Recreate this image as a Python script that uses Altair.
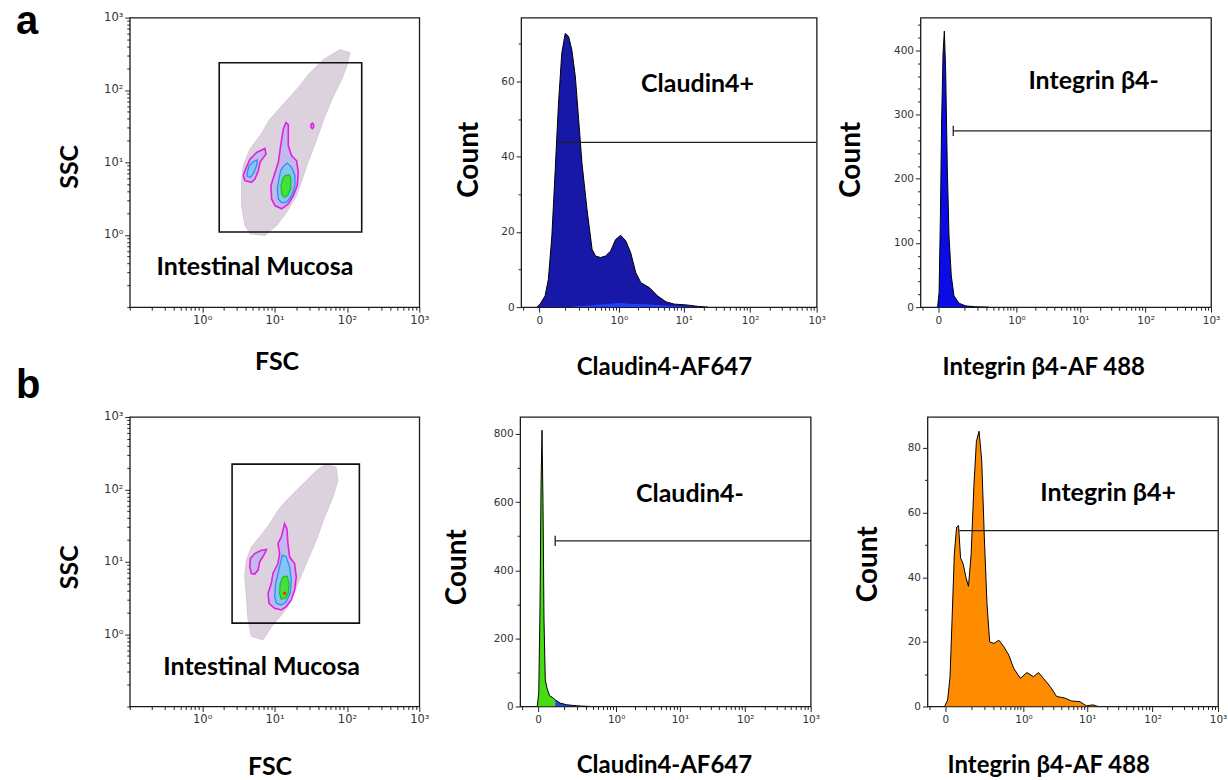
import altair as alt
import numpy as np
import pandas as pd

# ---------------- histogram data (x = fluorescence value, y = count) ----------------
h1_x = [-0.006, 0.0017, 0.015, 0.025, 0.037, 0.050, 0.064, 0.080, 0.099, 0.1195, 0.142, 0.169,
        0.198, 0.230, 0.287, 0.355, 0.408, 0.499, 0.606, 0.735, 0.888, 1.07, 1.29, 1.54, 1.85,
        2.22, 3.0, 4.0, 5.39, 7.22, 10.9, 16.4, 23.2]
h1_count = [0, 0.8, 3, 7.4, 18.9, 36.6, 54, 67.5, 72.8, 72, 68.4, 61.3, 49.8, 38.3, 26, 15.4,
            13.6, 13.2, 13.6, 14.9, 18, 19.1, 17.6, 14.5, 9.2, 6.5, 5.2, 3, 1.4, 0.8, 0.6, 0.2, 0]
h1b_x = [0.1, 0.2, 0.4, 0.7, 1.0, 1.5, 2.5, 4.0, 7.0, 12.0, 20.0]
h1b_count = [0, 0.3, 0.6, 0.9, 1.1, 0.9, 0.8, 0.6, 0.3, 0.1, 0]

h2_x = [-0.002, 0.0017, 0.0049, 0.0083, 0.0122, 0.0159, 0.0198, 0.0252, 0.0309, 0.0392, 0.0498,
        0.0723, 0.1087, 0.1826, 0.332]
h2_count = [0, 23, 137, 293, 396, 430, 370, 215, 111, 49, 17.6, 6.2, 2, 0.5, 0]

h3_x = [-0.002, 0.0017, 0.005, 0.0075, 0.0102, 0.0130, 0.0159, 0.0198, 0.0252, 0.0344, 0.0442,
        0.0566, 0.0804, 0.1195, 0.198, 0.355]
h3_count = [0, 39, 303, 645, 811, 596, 254, 78, 54, 31, 27, 19.5, 10, 5, 2, 0]

h4_x = [-0.002, 0.0057, 0.0122, 0.0180, 0.0252, 0.0330, 0.0403, 0.0482, 0.0597, 0.0723, 0.0856,
        0.1008, 0.1175, 0.1352, 0.1553, 0.1773, 0.2006, 0.2272, 0.2563, 0.3088, 0.3805, 0.466,
        0.568, 0.689, 0.888, 1.135, 1.452, 1.741, 2.085, 2.651, 3.355, 4.52, 5.71, 7.67, 9.67,
        12.23, 14.6]
h4_count = [0, 2, 9.2, 26.7, 47, 55.5, 56, 46, 44, 40, 37.2, 47, 67.8, 82, 85.2, 76, 52.4, 31.8,
            20, 19.5, 20.5, 18.5, 15.9, 11.8, 8.7, 10.5, 9.2, 10.5, 8.7, 6.2, 3.1, 2.6, 1.7, 1.5,
            0.2, 0.5, 0]

# gates: start, end, level, end-tick half height (counts)
gate1 = [0.06, 1000, 43.8, 0]
gate2 = [0.047, 1000, 274.5, 8]
gate3 = [0.0566, 1000, 486, 15]
gate4 = [0.043, 1000, 54.4, 0]

# ---------------- scatter data (log10 FSC, log10 SSC) ----------------
s1_cloud_lx = [0.660, 0.867, 1.029, 1.167, 1.306, 1.444, 1.582, 1.697, 1.812, 1.928, 1.997, 2.043,
               1.905, 1.674, 1.490, 1.306, 1.098, 0.936, 0.798, 0.660, 0.567, 0.545, 0.545, 0.591]
s1_cloud_ly = [0.014, -0.009, 0.128, 0.312, 0.541, 0.953, 1.321, 1.641, 1.916, 2.146, 2.329, 2.513,
               2.558, 2.421, 2.238, 2.008, 1.779, 1.596, 1.366, 1.183, 0.953, 0.725, 0.403, 0.128]
s1_magL_lx = [0.591, 0.660, 0.752, 0.867, 0.881, 0.798, 0.775, 0.729, 0.683, 0.591, 0.567]
s1_magL_ly = [0.885, 1.045, 1.137, 1.192, 1.114, 1.000, 0.885, 0.770, 0.724, 0.747, 0.816]
s1_magM_lx = [1.158, 1.190, 1.190, 1.236, 1.305, 1.328, 1.314, 1.259, 1.190, 1.098, 1.006, 0.959,
              0.950, 0.992, 1.052, 1.084, 1.121]
s1_magM_ly = [1.550, 1.522, 1.229, 1.091, 1.022, 0.862, 0.679, 0.541, 0.426, 0.358, 0.403, 0.495,
              0.679, 0.816, 1.000, 1.229, 1.458]
s1_magS_lx = [1.503, 1.522, 1.540, 1.540, 1.522, 1.503]
s1_magS_ly = [1.522, 1.541, 1.522, 1.486, 1.467, 1.486]
s1_bluL_lx = [0.623, 0.650, 0.706, 0.761, 0.752, 0.715, 0.669, 0.623]
s1_bluL_ly = [0.862, 0.954, 1.009, 1.036, 0.954, 0.862, 0.793, 0.807]
s1_bluM_lx = [1.130, 1.176, 1.236, 1.282, 1.282, 1.236, 1.167, 1.098, 1.052, 1.038, 1.061, 1.084]
s1_bluM_ly = [0.954, 0.990, 0.931, 0.816, 0.679, 0.541, 0.449, 0.440, 0.495, 0.633, 0.770, 0.885]
s1_grn_lx = [1.144, 1.204, 1.227, 1.222, 1.181, 1.130, 1.098, 1.089, 1.112]
s1_grn_ly = [0.816, 0.825, 0.770, 0.633, 0.541, 0.518, 0.564, 0.679, 0.770]
s1_gate = [1.72, 160, 1.09, 237.5]  # x, x2, y, y2

s2_cloud_lx = [0.680, 0.841, 0.978, 1.116, 1.208, 1.323, 1.438, 1.575, 1.690, 1.805, 1.874, 1.851,
               1.713, 1.575, 1.438, 1.300, 1.162, 1.047, 0.933, 0.795, 0.680, 0.611, 0.588, 0.611,
               0.634]
s2_cloud_ly = [-0.032, -0.078, 0.128, 0.288, 0.426, 0.701, 0.975, 1.296, 1.616, 1.891, 2.120, 2.303,
               2.349, 2.257, 2.120, 1.983, 1.845, 1.708, 1.525, 1.342, 1.204, 1.021, 0.792, 0.517,
               0.197]
s2_magL_lx = [0.666, 0.726, 0.818, 0.887, 0.864, 0.795, 0.772, 0.726, 0.680, 0.657]
s2_magL_ly = [1.044, 1.113, 1.158, 1.168, 1.113, 0.998, 0.884, 0.829, 0.838, 0.930]
s2_magM_lx = [1.139, 1.171, 1.185, 1.208, 1.277, 1.300, 1.277, 1.231, 1.162, 1.093, 1.001, 0.923,
              0.910, 0.955, 0.978, 1.047, 1.070, 1.047, 1.093, 1.116]
s2_magM_ly = [1.525, 1.456, 1.250, 1.067, 0.975, 0.792, 0.609, 0.472, 0.380, 0.334, 0.357, 0.426,
              0.563, 0.701, 0.838, 0.975, 1.113, 1.250, 1.342, 1.433]
s2_bluM_lx = [1.107, 1.162, 1.208, 1.231, 1.217, 1.162, 1.093, 1.024, 1.001, 1.015, 1.047, 1.079]
s2_bluM_ly = [1.090, 1.067, 0.930, 0.746, 0.563, 0.449, 0.403, 0.426, 0.517, 0.701, 0.838, 0.975]
s2_grn_lx = [1.116, 1.176, 1.199, 1.190, 1.153, 1.093, 1.070, 1.079]
s2_grn_ly = [0.792, 0.801, 0.701, 0.563, 0.495, 0.481, 0.563, 0.701]
s2_peak = [1.139, 0.563]
s2_gate = [2.59, 148.6, 1.42, 223]

# ---------------- helpers ----------------
LOG_TICKS = sorted({round(k * 10.0 ** j, 4) for j in range(-1, 3) for k in range(1, 10)} | {1000.0})
HIST_TICKS = [-0.05, 0.0] + LOG_TICKS
SUP = ("datum.value == 1 ? '10⁰' : datum.value == 10 ? '10¹' : datum.value == 100 ? '10²' : "
       "datum.value == 1000 ? '10³' : ''")
MAJOR = "indexof([0, 1, 10, 100, 1000], datum.value) >= 0"
TITLE_FONT = "Lato"


def tick_size(test):
    return {"condition": {"test": test, "value": 5}, "value": 3}


def poly_df(parts):
    rows = []
    for g, (lx, ly) in enumerate(parts):
        for o, (a, b) in enumerate(zip(lx, ly)):
            rows.append({"x": 10 ** a, "y": 10 ** b, "o": o, "g": g})
    return pd.DataFrame(rows)


def letter_layer(letter, y):
    return (alt.Chart(pd.DataFrame({"t": [letter]}))
            .mark_text(font="Liberation Sans", fontSize=40, fontWeight="bold", color="black",
                       align="left", baseline="alphabetic")
            .encode(x=alt.value(-114), y=alt.value(y), text="t:N"))


def scatter_panel(cloud, mags, blues, greens, gate, label_xy, letters, xt, yt, peak=None):
    scale = alt.Scale(type="log", domain=[0.1, 1000], nice=False)
    X = alt.X("x:Q", scale=scale,
              axis=alt.Axis(values=LOG_TICKS, labelExpr=SUP, tickSize=tick_size(MAJOR),
                            labelOverlap=False, labelFlush=False, labelPadding=2, labelFontSize=11.5,
                            title="FSC", titleX=xt[0], titleY=xt[1], titleAngle=0,
                            titleAlign="center", titleBaseline="middle", titleFontSize=25))
    Y = alt.Y("y:Q", scale=scale,
              axis=alt.Axis(values=LOG_TICKS, labelExpr=SUP, tickSize=tick_size(MAJOR),
                            labelOverlap=False, labelFlush=False, labelPadding=2, labelFontSize=11.5,
                            title="SSC", titleX=yt[0], titleY=yt[1], titleAngle=270,
                            titleAlign="center", titleBaseline="middle", titleFontSize=25))
    enc = dict(x=X, y=Y, order="o:Q", detail="g:N")
    layers = [
        alt.Chart(poly_df([cloud])).mark_line(interpolate="linear-closed", fill="#dcd2de",
                                              stroke="#d4c8d8", strokeWidth=1, clip=True).encode(**enc),
        alt.Chart(poly_df(mags)).mark_line(interpolate="linear-closed", fill="#c2b8ec",
                                           stroke="#e31ee3", strokeWidth=1.6, clip=True).encode(**enc),
        alt.Chart(poly_df(blues)).mark_line(interpolate="linear-closed", fill="#86c4f4",
                                            stroke="#2b8ff2", strokeWidth=1.3, clip=True).encode(**enc),
        alt.Chart(poly_df(greens)).mark_line(interpolate="linear-closed", fill="#44e03c",
                                             stroke="#1fc21f", strokeWidth=1.3, clip=True).encode(**enc),
    ]
    if peak is not None:
        layers.append(alt.Chart(pd.DataFrame({"x": [10 ** peak[0]], "y": [10 ** peak[1]]}))
                      .mark_point(filled=True, color="#e83020", size=12, opacity=1).encode(x=X, y=Y))
    layers.append(alt.Chart(pd.DataFrame({"x": [gate[0]], "x2": [gate[1]], "y": [gate[2]], "y2": [gate[3]]}))
                  .mark_rect(fillOpacity=0, stroke="#111", strokeWidth=1.6)
                  .encode(x=X, x2="x2:Q", y=Y, y2="y2:Q"))
    layers.append(alt.Chart(pd.DataFrame({"x": [label_xy[0]], "y": [label_xy[1]], "t": ["Intestinal Mucosa"]}))
                  .mark_text(font=TITLE_FONT, fontSize=25, fontWeight="bold", color="black",
                             align="center", baseline="middle").encode(x=X, y=Y, text="t:N"))
    for letter, ly in letters:
        layers.append(letter_layer(letter, ly))
    return alt.layer(*layers).properties(width=290, height=290)


def hist_panel(fills, outline, gate, label, label_xy, ymax, ystep, ylab, xtitle, xt, yt, width):
    xs = alt.Scale(type="symlog", constant=0.0684, domain=[-0.06, 1000], nice=False, zero=False)
    ys = alt.Scale(domain=[0, ymax], nice=False, zero=True)
    test = f"datum.value % {ylab} == 0"
    X = alt.X("x:Q", scale=xs,
              axis=alt.Axis(values=HIST_TICKS, labelExpr="datum.value == 0 ? '0' : " + SUP,
                            tickSize=tick_size(MAJOR), labelOverlap=False, labelFlush=False,
                            labelPadding=3, title=xtitle, titleX=xt[0], titleY=xt[1], titleAngle=0,
                            titleAlign="center", titleBaseline="middle", titleFontSize=24))
    Y = alt.Y("y:Q", scale=ys,
              axis=alt.Axis(values=list(range(0, int(ymax) + 1, ystep)),
                            labelExpr=f"{test} ? toString(datum.value) : ''",
                            tickSize=tick_size(test), labelOverlap=False, labelFlush=False,
                            labelPadding=2, title="Count", titleX=yt[0], titleY=yt[1],
                            titleAngle=270, titleAlign="center", titleBaseline="middle",
                            titleFontSize=28))
    layers = []
    for xv, cv, col in fills:
        layers.append(alt.Chart(pd.DataFrame({"x": xv, "y": cv}))
                      .mark_area(color=col, interpolate="linear", clip=True).encode(x=X, y=Y))
    layers.append(alt.Chart(pd.DataFrame({"x": outline[0], "y": outline[1]}))
                  .mark_line(color="black", strokeWidth=1, interpolate="linear", clip=True)
                  .encode(x=X, y=Y))
    layers.append(alt.Chart(pd.DataFrame({"x": [gate[0]], "x2": [gate[1]], "y": [gate[2]]}))
                  .mark_rule(color="#222", strokeWidth=1.3).encode(x=X, x2="x2:Q", y=Y))
    if gate[3] > 0:
        layers.append(alt.Chart(pd.DataFrame({"x": [gate[0]], "y": [gate[2] - gate[3]],
                                              "y2": [gate[2] + gate[3]]}))
                      .mark_rule(color="#222", strokeWidth=1.3).encode(x=X, y=Y, y2="y2:Q"))
    layers.append(alt.Chart(pd.DataFrame({"x": [label_xy[0]], "y": [label_xy[1]], "t": [label]}))
                  .mark_text(font=TITLE_FONT, fontSize=25, fontWeight="bold", color="black",
                             align="center", baseline="middle").encode(x=X, y=Y, text="t:N"))
    return alt.layer(*layers).properties(width=width, height=290)


# ---------------- panels ----------------
s1 = scatter_panel([s1_cloud_lx, s1_cloud_ly],
                   [(s1_magL_lx, s1_magL_ly), (s1_magM_lx, s1_magM_ly), (s1_magS_lx, s1_magS_ly)],
                   [(s1_bluL_lx, s1_bluL_ly), (s1_bluM_lx, s1_bluM_ly)],
                   [(s1_grn_lx, s1_grn_ly)],
                   s1_gate, (5.36, 0.363), [("a", 16.5), ("b", 381)], (147, 54), (-60, 149))
s2 = scatter_panel([s2_cloud_lx, s2_cloud_ly],
                   [(s2_magL_lx, s2_magL_ly), (s2_magM_lx, s2_magM_ly)],
                   [(s2_bluM_lx, s2_bluM_ly)],
                   [(s2_grn_lx, s2_grn_ly)],
                   s2_gate, (6.64, 0.352), [], (140, 60), (-60, 150), peak=s2_peak)

h1 = hist_panel([(h1_x, h1_count, "#1717a8"), (h1b_x, h1b_count, "#1f3cff")], (h1_x, h1_count),
                gate1, "Claudin4+", (16.2, 59.4), 77, 10, 20, "Claudin4-AF647",
                (143, 60), (-52, 142), 296)
h2 = hist_panel([(h2_x, h2_count, "#0b0be6")], (h2_x, h2_count),
                gate2, "Integrin β4-", (16.0, 352), 451, 20, 100, "Integrin β4-AF 488",
                (123, 60), (-69, 142), 291)

h3_green = [(x, c) for x, c in zip(h3_x, h3_count) if x <= gate3[0]]
h3_blue = [(x, c) for x, c in zip(h3_x, h3_count) if x >= gate3[0]]
h3 = hist_panel([([p[0] for p in h3_green], [p[1] for p in h3_green], "#46dc12"),
                 ([p[0] for p in h3_blue], [p[1] for p in h3_blue], "#2448d0")],
                (h3_x, h3_count), gate3, "Claudin4-", (14.2, 624), 850, 100, 200,
                "Claudin4-AF647", (144, 59), (-63, 150), 291)
h4 = hist_panel([(h4_x, h4_count, "#ff8c00")], (h4_x, h4_count),
                gate4, "Integrin β4+", (20.9, 66.1), 89.6, 10, 20, "Integrin β4-AF 488",
                (121, 59), (-59, 147), 291)

row_a = alt.hconcat(s1, alt.hconcat(h1, h2, spacing=104, bounds="flush"), spacing=102, bounds="flush")
row_b = alt.hconcat(s2, alt.hconcat(h3, h4, spacing=117, bounds="flush"), spacing=101, bounds="flush")

chart = (
    alt.vconcat(row_a, row_b, spacing=3)
    .properties(padding={"left": 15, "top": 0, "right": 0, "bottom": 0}, background="white")
    .configure_view(stroke="#1b1b1b", strokeWidth=1.3)
    .configure_axis(grid=False, domain=False, tickColor="#222", tickWidth=1,
                    labelFont="DejaVu Sans", labelFontSize=10.5, labelColor="#333",
                    titleFont=TITLE_FONT, titleFontWeight="bold", titleColor="black")
)

chart.save("out.html", embed_options={"renderer": "svg", "actions": False})
